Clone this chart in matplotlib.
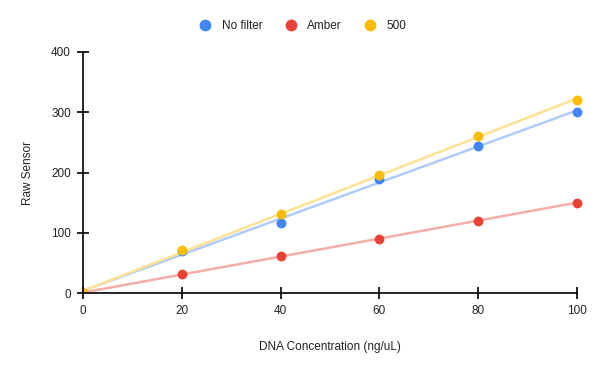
import numpy as np
import matplotlib
matplotlib.use("Agg")
import matplotlib.pyplot as plt
from matplotlib.lines import Line2D
from matplotlib.patches import Rectangle

plt.rcParams['font.family'] = ['Liberation Sans', 'DejaVu Sans']

# Data
concentration = [0, 20, 40, 60, 80, 100]
no_filter = [0, 70, 117, 190, 244, 300]
amber = [0, 31, 62, 90, 120, 150]
filter_500 = [0, 71, 132, 196, 260, 321]

series_names = ["No filter", "Amber", "500"]
point_colors = ["#4285F4", "#EA4335", "#FBBC04"]
trend_colors = ["#AECBFA", "#F6AEA9", "#FDE293"]

fig, ax = plt.subplots(figsize=(6, 3.71), dpi=100)
fig.subplots_adjust(left=0.138, right=0.962, top=0.86, bottom=0.21)

x = np.array(concentration)
for vals, pc, tc in zip([no_filter, amber, filter_500], point_colors, trend_colors):
    # linear trendline through the points
    slope, intercept = np.polyfit(x, vals, 1)
    xs = np.array([x.min(), x.max()])
    ax.plot(xs, slope * xs + intercept, color=tc, lw=1.8, zorder=2)

# points get clipped at the axes lines but not at the right/top
clip_box = Rectangle((0, 0), 1.1, 1.1, transform=ax.transAxes, visible=False)
ax.add_patch(clip_box)
for vals, pc in zip([no_filter, amber, filter_500], point_colors):
    sc = ax.scatter(x, vals, s=50, color=pc, zorder=3, linewidths=0)
    sc.set_clip_path(clip_box)

ax.set_xlim(0, 100)
ax.set_ylim(0, 400)
ax.set_xticks([0, 20, 40, 60, 80, 100])
ax.set_yticks([0, 100, 200, 300, 400])

for side in ["top", "right"]:
    ax.spines[side].set_visible(False)
for side in ["left", "bottom"]:
    ax.spines[side].set_color("black")
    ax.spines[side].set_linewidth(1.2)
    ax.spines[side].set_zorder(4)
ax.tick_params(direction="inout", length=9, width=1.2, labelsize=8.5,
               colors="black", labelcolor="#222222", pad=4)

ax.set_xlabel("DNA Concentration (ng/uL)", fontsize=8.5, color="#222222", labelpad=17)
ax.set_ylabel("Raw Sensor", fontsize=8.5, color="#222222", labelpad=12)

# Legend on top
handles = [Line2D([0], [0], marker="o", linestyle="none", markersize=8.5,
                  markerfacecolor=c, markeredgewidth=0, label=n)
           for n, c in zip(series_names, point_colors)]
fig.legend(handles=handles, loc="center", bbox_to_anchor=(0.5, 0.93), ncol=3,
           frameon=False, fontsize=8.5, handletextpad=0.4, columnspacing=1.4,
           labelcolor="#222222")

plt.savefig("out.png", dpi=100)
